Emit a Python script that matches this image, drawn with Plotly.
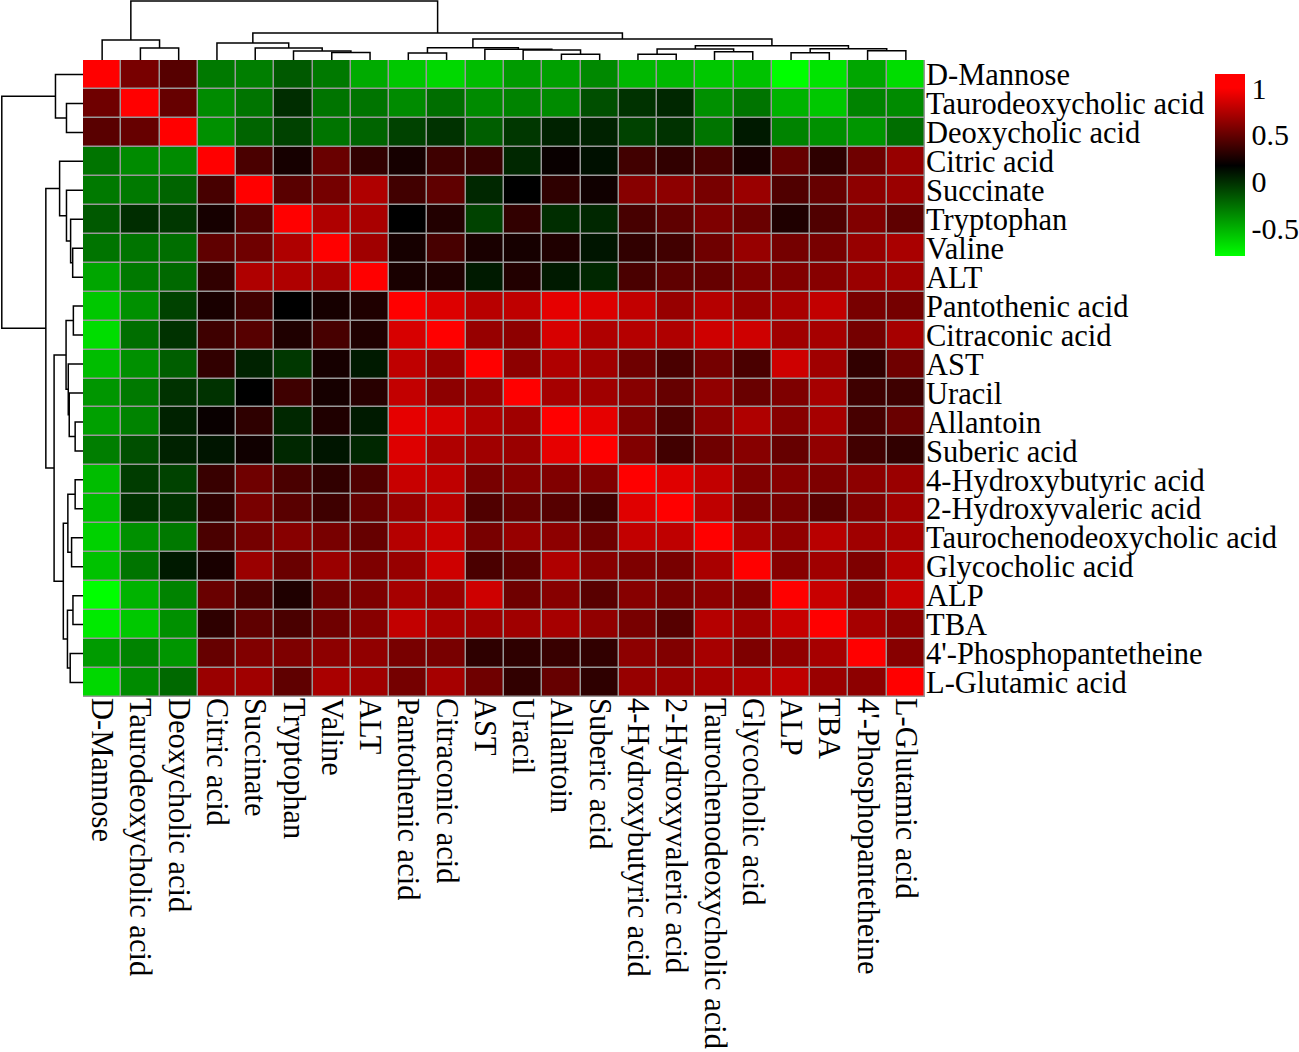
import plotly.graph_objects as go

# metabolites / indices, same order for rows and columns (clustered order)
names = [
    "D-Mannose", "Taurodeoxycholic acid", "Deoxycholic acid", "Citric acid",
    "Succinate", "Tryptophan", "Valine", "ALT", "Pantothenic acid",
    "Citraconic acid", "AST", "Uracil", "Allantoin", "Suberic acid",
    "4-Hydroxybutyric acid", "2-Hydroxyvaleric acid",
    "Taurochenodeoxycholic acid", "Glycocholic acid", "ALP", "TBA",
    "4'-Phosphopantetheine", "L-Glutamic acid",
]

# correlation matrix (row by row)
corr = [
    [1.00, 0.56, 0.45, -0.29, -0.31, -0.17, -0.29, -0.48, -0.59, -0.65, -0.55, -0.42, -0.44, -0.35, -0.53, -0.53, -0.59, -0.57, -0.80, -0.70, -0.46, -0.67],
    [0.53, 1.00, 0.50, -0.36, -0.27, 0.00, -0.27, -0.27, -0.36, -0.25, -0.36, -0.33, -0.36, -0.13, -0.02, 0.02, -0.38, -0.27, -0.51, -0.59, -0.33, -0.36],
    [0.46, 0.50, 1.00, -0.38, -0.21, -0.08, -0.27, -0.21, -0.08, -0.02, -0.19, -0.04, 0.04, 0.04, -0.08, -0.02, -0.27, 0.07, -0.33, -0.38, -0.40, -0.25],
    [-0.27, -0.36, -0.36, 1.00, 0.41, 0.24, 0.51, 0.33, 0.24, 0.37, 0.35, 0.02, 0.20, 0.11, 0.38, 0.33, 0.41, 0.25, 0.50, 0.32, 0.53, 0.66],
    [-0.29, -0.29, -0.21, 0.40, 1.00, 0.46, 0.55, 0.74, 0.38, 0.48, 0.02, 0.17, 0.32, 0.22, 0.61, 0.63, 0.56, 0.67, 0.43, 0.50, 0.63, 0.67],
    [-0.17, 0.00, -0.04, 0.24, 0.45, 1.00, 0.74, 0.72, 0.17, 0.28, -0.08, 0.33, 0.00, 0.02, 0.40, 0.48, 0.58, 0.51, 0.27, 0.43, 0.59, 0.48],
    [-0.27, -0.27, -0.25, 0.48, 0.53, 0.74, 1.00, 0.69, 0.24, 0.40, 0.25, 0.24, 0.27, 0.09, 0.33, 0.38, 0.53, 0.66, 0.55, 0.56, 0.66, 0.72],
    [-0.46, -0.29, -0.23, 0.33, 0.74, 0.74, 0.71, 1.00, 0.25, 0.27, 0.07, 0.28, 0.07, 0.02, 0.41, 0.48, 0.50, 0.58, 0.59, 0.61, 0.67, 0.69],
    [-0.59, -0.38, -0.08, 0.25, 0.38, 0.17, 0.24, 0.27, 1.00, 0.89, 0.77, 0.79, 0.92, 0.89, 0.80, 0.66, 0.76, 0.66, 0.72, 0.80, 0.56, 0.55],
    [-0.67, -0.25, -0.02, 0.37, 0.45, 0.27, 0.40, 0.27, 0.87, 1.00, 0.66, 0.63, 0.87, 0.74, 0.76, 0.74, 0.84, 0.84, 0.69, 0.71, 0.55, 0.71],
    [-0.55, -0.38, -0.19, 0.33, 0.04, -0.04, 0.24, 0.07, 0.79, 0.66, 1.00, 0.63, 0.74, 0.69, 0.53, 0.41, 0.55, 0.41, 0.84, 0.69, 0.33, 0.53],
    [-0.40, -0.29, -0.02, -0.02, 0.17, 0.37, 0.24, 0.30, 0.80, 0.63, 0.66, 1.00, 0.71, 0.69, 0.61, 0.50, 0.64, 0.51, 0.58, 0.71, 0.37, 0.37],
    [-0.44, -0.33, 0.04, 0.20, 0.32, 0.02, 0.27, 0.07, 0.92, 0.87, 0.74, 0.69, 1.00, 0.92, 0.59, 0.43, 0.63, 0.74, 0.61, 0.71, 0.40, 0.51],
    [-0.31, -0.13, 0.04, 0.09, 0.22, 0.02, 0.09, 0.02, 0.89, 0.74, 0.69, 0.67, 0.92, 1.00, 0.59, 0.38, 0.53, 0.61, 0.50, 0.64, 0.38, 0.33],
    [-0.55, -0.06, -0.08, 0.35, 0.53, 0.41, 0.33, 0.43, 0.82, 0.79, 0.56, 0.61, 0.59, 0.59, 1.00, 0.90, 0.80, 0.59, 0.61, 0.58, 0.63, 0.67],
    [-0.55, -0.02, -0.02, 0.32, 0.56, 0.46, 0.37, 0.50, 0.66, 0.77, 0.43, 0.50, 0.45, 0.38, 0.90, 1.00, 0.79, 0.56, 0.56, 0.46, 0.59, 0.69],
    [-0.63, -0.38, -0.29, 0.41, 0.55, 0.61, 0.56, 0.50, 0.76, 0.82, 0.56, 0.66, 0.63, 0.53, 0.80, 0.79, 1.00, 0.72, 0.64, 0.77, 0.69, 0.72],
    [-0.57, -0.27, 0.07, 0.25, 0.67, 0.51, 0.67, 0.58, 0.66, 0.84, 0.41, 0.48, 0.74, 0.61, 0.58, 0.56, 0.72, 1.00, 0.61, 0.69, 0.58, 0.76],
    [-0.80, -0.51, -0.33, 0.51, 0.41, 0.27, 0.53, 0.58, 0.71, 0.67, 0.84, 0.53, 0.61, 0.46, 0.61, 0.56, 0.63, 0.59, 1.00, 0.82, 0.63, 0.82],
    [-0.72, -0.59, -0.38, 0.32, 0.48, 0.41, 0.53, 0.61, 0.80, 0.72, 0.69, 0.69, 0.71, 0.64, 0.56, 0.45, 0.76, 0.69, 0.82, 1.00, 0.71, 0.63],
    [-0.42, -0.33, -0.40, 0.50, 0.59, 0.58, 0.63, 0.64, 0.56, 0.56, 0.32, 0.32, 0.35, 0.33, 0.63, 0.59, 0.71, 0.58, 0.64, 0.71, 1.00, 0.61],
    [-0.65, -0.36, -0.23, 0.67, 0.69, 0.48, 0.72, 0.69, 0.55, 0.71, 0.53, 0.33, 0.50, 0.32, 0.66, 0.67, 0.71, 0.74, 0.79, 0.67, 0.63, 1.00],
]

# dendrogram merges: (node id, left child, right child, height)
# leaves are the integer positions above
merges = [
    ("n12", 1, 2, 12),
    ("A", 0, "n12", 20),
    ("n67", 6, 7, 7.5),
    ("n5", 5, "n67", 9),
    ("n4", 4, "n5", 12),
    ("C", 3, "n4", 17),
    ("n89", 8, 9, 7),
    ("n1213", 12, 13, 5.7),
    ("n11", 11, "n1213", 10),
    ("n10", 10, "n11", 10.7),
    ("E", "n89", "n10", 12.3),
    ("n1415", 14, 15, 5.7),
    ("n1617", 16, 17, 8.3),
    ("F", "n1415", "n1617", 11),
    ("n1819", 18, 19, 7.3),
    ("n2021", 20, 21, 9.3),
    ("G", "n1819", "n2021", 11.3),
    ("H", "F", "G", 14.3),
    ("D", "E", "H", 21),
    ("B", "C", "D", 27),
    ("root", "A", "B", 59),
]

cbar_ticks = [-0.5, 0, 0.5, 1]

W, H = 1299, 1052
FONT = "Liberation Serif"


def px_x(p):
    return p / W


def px_y(p):
    return 1 - p / H


# dendrogram segments
pos = {}
hgt = {}
seg_pos, seg_h = [], []
for node, a, b, h in merges:
    pa = pos.get(a, a if isinstance(a, int) else None)
    pb = pos.get(b, b if isinstance(b, int) else None)
    ha = hgt.get(a, 0)
    hb = hgt.get(b, 0)
    seg_pos += [pa, pa, pb, pb, None]
    seg_h += [ha, h, h, hb, None]
    pos[node] = (pa + pb) / 2
    hgt[node] = h

n = len(names)
idx = list(range(n))

fig = go.Figure()

fig.add_trace(go.Heatmap(
    z=corr, x=idx, y=idx,
    zmin=-0.8, zmax=1.15,
    colorscale=[[0, "#00ff00"], [0.497, "#000000"], [0.923, "#ff0000"], [1, "#ff0000"]],
    xgap=1.5, ygap=1.5,
    colorbar=dict(
        x=px_x(1215), xanchor="left", y=px_y(165), yanchor="middle",
        thickness=30, thicknessmode="pixels", len=182, lenmode="pixels",
        xpad=0, ypad=0, outlinewidth=0, ticks="",
        tickvals=cbar_ticks, ticktext=[str(t) for t in cbar_ticks],
        tickfont=dict(family=FONT, size=30, color="black"),
    ),
    xaxis="x", yaxis="y",
))

# top dendrogram
fig.add_trace(go.Scatter(
    x=seg_pos, y=seg_h, mode="lines",
    line=dict(color="black", width=1.5),
    xaxis="x2", yaxis="y2", showlegend=False, hoverinfo="skip", cliponaxis=False,
))
# left dendrogram
fig.add_trace(go.Scatter(
    x=seg_h, y=seg_pos, mode="lines",
    line=dict(color="black", width=1.5),
    xaxis="x3", yaxis="y3", showlegend=False, hoverinfo="skip", cliponaxis=False,
))

hx = [px_x(83), px_x(925)]
hy = [px_y(697), px_y(60)]
blank = dict(showgrid=False, zeroline=False, showticklabels=False, ticks="", showline=False)

fig.update_layout(
    width=W, height=H,
    margin=dict(l=0, r=0, t=0, b=0),
    paper_bgcolor="white", plot_bgcolor="white",
    xaxis=dict(domain=hx, range=[-0.5, n - 0.5], tickmode="array", tickvals=idx,
               ticktext=names, tickangle=90, side="bottom", showgrid=False,
               zeroline=False, ticks="", automargin=False,
               tickfont=dict(family=FONT, size=30.5, color="black")),
    yaxis=dict(domain=hy, range=[n - 0.5, -0.5], tickmode="array", tickvals=idx,
               ticktext=names, side="right", showgrid=False, zeroline=False,
               ticks="", automargin=False,
               tickfont=dict(family=FONT, size=30.5, color="black")),
    xaxis2=dict(domain=hx, range=[-0.5, n - 0.5], anchor="y2", **blank),
    yaxis2=dict(domain=[px_y(60), 1], range=[0, 60], anchor="x2", **blank),
    xaxis3=dict(domain=[0, px_x(83)], range=[60.3, 0], anchor="y3", **blank),
    yaxis3=dict(domain=hy, range=[n - 0.5, -0.5], anchor="x3", **blank),
    shapes=[dict(type="rect", xref="x", yref="y", x0=-0.5, x1=n - 0.5,
                 y0=-0.5, y1=n - 0.5, fillcolor="#999999",
                 line=dict(color="#999999", width=1.5), layer="below")],
)

# page body margin off so the figure sits at the window's corner
fig.write_html("out.html", config={"displayModeBar": False},
               post_script="document.body.style.margin='0';document.body.style.overflow='hidden';")
